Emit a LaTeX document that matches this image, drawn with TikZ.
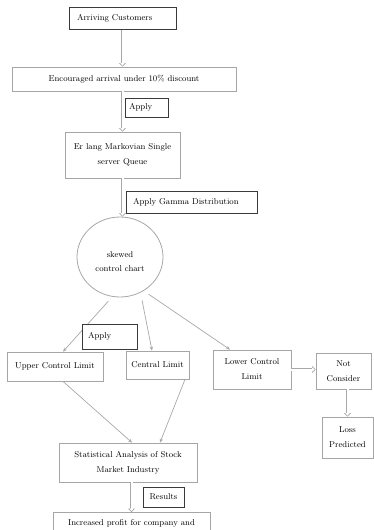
\documentclass[tikz,border=0pt]{standalone}
\usepackage{tikz}
\usetikzlibrary{positioning,arrows.meta,shapes.geometric}
\definecolor{boxborder}{HTML}{A6A6A6}
\definecolor{tagborder}{HTML}{3A3A3A}
\definecolor{linkcolor}{HTML}{A8A8A8}
\newcommand{\chartfont}{\fontsize{8.5}{15}\selectfont}
\tikzset{
    box/.style={
        rectangle,
        draw=boxborder,
        fill=white,
        line width=0.8pt,
        align=center,
        inner sep=0pt,
        font=\chartfont,
    },
    tag/.style={
        rectangle,
        draw=tagborder,
        fill=white,
        line width=1pt,
        align=left,
        inner ysep=0pt,
        font=\chartfont,
    },
    chartnode/.style={
        ellipse,
        draw=boxborder,
        line width=0.8pt,
        minimum width=86pt,
        minimum height=80pt,
        align=center,
        inner sep=0pt,
        text height=29pt,
        font=\fontsize{8.5}{14}\selectfont,
    },
    link/.style={
        -{Stealth[length=4pt,width=3.5pt]},
        draw=linkcolor,
        line width=0.7pt,
    },
    hollow/.style={
        -{Triangle[length=3.5pt,width=7pt]},
        draw=linkcolor,
        line width=3.6pt,
        postaction={
            draw=white,
            line width=2pt,
            -{Triangle[length=2.4pt,width=4pt]},
            shorten >=1pt,
        },
    },
}

\begin{document}
\begin{tikzpicture}[x=1pt,y=-1pt]
    \clip (0,0) rectangle (374,530);

    % Main column
    \node[tag, minimum height=22pt, inner xsep=8pt, text width=91pt] (arrive) at (122.5,18) {Arriving Customers};
    \node[box, minimum width=224pt, minimum height=24pt] (encour) at (124,79) {Encouraged arrival under 10\% discount};
    \node[box, minimum width=115pt, minimum height=46pt] (erlang) at (122.5,155) {Er lang Markovian Single\\server Queue};
    \node[chartnode] (chart) at (120,257) {skewed\\control chart};

    % Control limits
    \node[box, minimum width=96pt, minimum height=29pt] (ucl) at (55,366.5) {Upper Control Limit};
    \node[box, minimum width=63pt, minimum height=28pt] (cl) at (157.5,365) {Central Limit};
    \node[box, minimum width=78pt, minimum height=39pt] (lcl) at (252,369.5) {Lower Control\\Limit};
    \node[box, minimum width=55pt, minimum height=36pt] (notc) at (343.5,371) {Not\\Consider};
    \node[box, minimum width=51pt, minimum height=41pt] (loss) at (347.5,437.5) {Loss\\Predicted};

    % Analysis
    \node[box, minimum width=138pt, minimum height=39pt] (stat) at (128,462.5) {Statistical Analysis of Stock\\Market Industry};
    \node[box, anchor=north, minimum width=157pt, text height=13pt, text depth=30pt] (profit) at (131.5,512) {Increased profit for company and};

    % Hollow arrows
    \draw[hollow] (arrive.south) -- (arrive.south |- encour.north);
    \draw[hollow] (erlang.north |- encour.south) -- (erlang.north);
    \draw[hollow] (erlang.south) -- (erlang.south |- chart.north);
    \draw[hollow] (lcl.east) -- (lcl.east -| notc.west);
    \draw[hollow] (loss.north |- notc.south) -- (loss.north);
    \draw[hollow] (profit.north |- stat.south) -- (profit.north);

    % Chart to limits
    \draw[link, shorten <=6pt] (chart.-101) -- ([xshift=8pt]ucl.north);
    \draw[link, shorten <=8pt] (chart.-60) -- ([xshift=-5.5pt]cl.north);
    \draw[link, shorten <=6pt] (chart.-55) -- ([xshift=-22pt]lcl.north);

    % Limits to analysis
    \draw[link] ([xshift=8pt]ucl.south) -- ([xshift=4pt]stat.north);
    \draw[link] ([xshift=27.5pt]cl.south) -- ([xshift=32pt]stat.north);

    % Step labels
    \node[tag, minimum height=19pt, inner xsep=4pt, text width=35pt] (apply1) at (146.5,107.5) {Apply};
    \node[tag, minimum height=22pt, inner xsep=7pt, text width=117pt] (gamma) at (191.5,202) {Apply Gamma Distribution};
    \node[tag, minimum height=25pt, inner xsep=6pt, text width=43pt] (apply2) at (109.5,336.5) {Apply};
    \node[tag, minimum height=20pt, inner xsep=5pt, text width=31pt, align=center] (results) at (163.5,497) {Results};

\end{tikzpicture}
\end{document}
